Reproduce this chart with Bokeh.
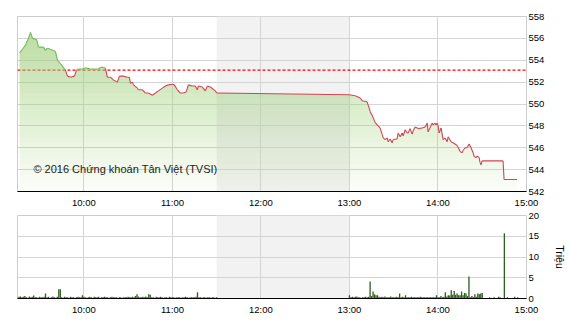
import numpy as np
from bokeh.plotting import figure
from bokeh.models import Range1d, FixedTicker, BoxAnnotation, Span, Label
from bokeh.layouts import column
from bokeh.embed import file_html
from bokeh.resources import INLINE

# ---- data (time in minutes after 09:00) ----
price_min = [16.4, 18.4, 20.4, 22.4, 23.8, 25.2, 27.9, 29.2, 32.6, 34.0,
             35.3, 37.3, 39.4, 40.7, 42.1, 44.1, 46.2, 47.5, 48.9, 50.9,
             53.6, 55.0, 56.3, 59.0, 61.0, 64.4, 67.8, 69.9, 71.2, 73.2,
             74.6, 75.9, 78.0, 80.0, 82.7, 84.1, 86.8, 89.5, 90.8, 91.5,
             92.9, 93.6, 96.3, 96.9, 99.7, 101.7, 103.7, 106.4, 108.5, 110.5,
             113.2, 115.2, 117.3, 120.0, 121.3, 123.4, 125.4, 127.4, 129.4, 130.8,
             133.5, 135.5, 136.9, 137.6, 140.3, 142.3, 143.7, 145.7, 149.1, 150.0,
             240.0, 243.9, 247.3, 248.6, 252.0, 252.7, 254.1, 256.1, 257.4, 259.5,
             260.8, 262.2, 262.9, 264.2, 265.6, 266.2, 267.6, 268.9, 269.6, 272.3,
             273.0, 274.4, 275.7, 276.4, 277.8, 279.1, 279.8, 281.1, 282.5, 283.2,
             284.5, 286.6, 289.3, 291.3, 292.7, 293.3, 296.0, 296.7, 298.1, 298.7,
             299.4, 300.1, 300.8, 302.1, 303.5, 304.8, 306.2, 306.9, 308.9, 310.3,
             313.0, 315.0, 316.4, 317.0, 318.4, 319.7, 321.1, 322.4, 323.8, 324.5,
             325.8, 326.5, 327.9, 328.5, 329.2, 329.9, 331.9, 344.1, 344.8, 353.6]
price_val = [554.7, 555.0, 555.4, 556.0, 556.55, 556.0, 555.9, 555.2, 555.2, 554.9,
             555.1, 555.0, 554.9, 554.8, 554.0, 553.7, 553.3, 553.1, 552.55, 552.45,
             552.55, 553.1, 553.2, 553.2, 553.3, 553.2, 553.2, 553.2, 553.35, 553.35,
             553.25, 552.45, 552.45, 552.2, 552.0, 552.55, 552.55, 552.45, 552.45, 551.9,
             552.0, 551.75, 551.45, 551.3, 551.3, 551.0, 551.0, 550.8, 551.0, 551.2,
             551.45, 551.65, 551.75, 551.8, 551.75, 551.3, 551.0, 551.0, 551.1, 551.75,
             551.65, 551.65, 551.3, 551.65, 551.55, 551.2, 551.65, 551.55, 551.2, 551.0,
             550.85, 550.75, 550.55, 550.3, 550.2, 549.9, 549.3, 548.75, 548.3, 548.0,
             547.8, 547.2, 546.9, 546.75, 546.9, 546.55, 546.8, 546.45, 546.75, 546.8,
             547.35, 547.0, 547.35, 547.1, 547.65, 547.35, 547.35, 547.75, 547.25, 547.55,
             547.9, 547.75, 547.8, 547.9, 548.25, 547.45, 548.25, 548.1, 548.25, 548.1,
             548.25, 548.0, 547.35, 547.8, 546.75, 546.9, 546.55, 547.0, 546.55, 546.45,
             546.2, 545.65, 545.55, 545.75, 546.0, 546.0, 546.35, 546.0, 545.55, 545.2,
             545.1, 545.25, 545.1, 544.65, 544.45, 544.8, 544.8, 544.8, 543.1, 543.1]
ref_price = 553.1

# volume (millions) per minute: morning 09:15-11:30, afternoon 13:00-14:54
vol_am_start = 15
vol_am = [0.3, 0.4, 0.5, 0.3, 0.4, 0.6, 0.3, 0.2, 0.5, 0.3,
          0.4, 0.7, 0.3, 0.3, 0.2, 0.4, 0.3, 0.3, 0.4, 1.2,
          0.3, 0.4, 0.2, 0.3, 0.5, 0.3, 0.2, 0.4, 2.2, 2.2,
          0.3, 0.2, 0.4, 0.3, 0.3, 0.2, 0.4, 0.3, 0.3, 0.2,
          0.3, 0.4, 0.3, 0.3, 0.8, 0.4, 0.3, 0.2, 0.3, 0.4,
          0.3, 0.2, 0.4, 0.3, 0.3, 0.4, 0.2, 0.3, 0.3, 0.4,
          0.3, 0.3, 0.2, 0.3, 0.4, 0.3, 0.3, 0.3, 0.2, 0.3,
          0.3, 0.2, 0.3, 0.3, 0.3, 0.4, 0.3, 0.3, 0.4, 0.3,
          0.6, 1.0, 0.5, 0.3, 0.3, 0.4, 0.3, 0.5, 0.3, 1.0,
          0.9, 0.3, 0.3, 0.2, 0.4, 0.3, 0.3, 0.4, 0.3, 0.2,
          0.3, 0.3, 0.2, 0.4, 0.3, 0.3, 0.3, 0.2, 0.3, 0.3,
          0.3, 0.2, 0.3, 0.3, 0.4, 0.3, 0.2, 0.3, 0.3, 0.3,
          0.3, 0.4, 1.5, 0.3, 0.3, 0.2, 0.3, 0.3, 0.2, 0.3,
          0.3, 0.2, 0.3, 0.3, 0.2, 0.3]
vol_pm_start = 240
vol_pm = [0.8, 0.3, 0.4, 0.3, 0.4, 0.5, 0.3, 0.3, 0.2, 0.3,
          0.3, 0.4, 0.3, 0.4, 4.1, 0.6, 1.7, 1.0, 0.8, 0.8,
          0.4, 0.3, 0.4, 0.3, 0.5, 0.3, 0.3, 0.3, 0.5, 0.3,
          0.3, 0.3, 0.4, 0.3, 1.2, 0.3, 0.4, 0.3, 0.8, 0.3,
          0.3, 0.3, 0.4, 0.3, 0.3, 0.3, 0.3, 0.3, 0.4, 0.3,
          0.3, 0.3, 0.3, 0.3, 0.3, 0.3, 0.3, 0.3, 0.3, 0.8,
          0.3, 0.3, 0.6, 0.3, 0.4, 1.5, 0.5, 0.8, 0.7, 2.0,
          0.9, 1.8, 0.9, 1.2, 0.8, 0.8, 1.7, 0.8, 1.3, 1.2,
          0.6, 5.3, 0.3, 0.6, 0.3, 1.0, 0.4, 1.2, 1.0, 1.2,
          1.3, 0.0, 0.0, 0.0, 0.0, 0.3, 0.0, 0.0, 0.3, 0.0,
          0.0, 0.4, 0.3, 0.0, 0.0, 15.7, 0.0, 0.3, 0.0, 0.0,
          0.0, 0.0, 0.4, 0.0, 0.3]

hour_ticks = [60, 120, 180, 240, 300, 360]
hour_labels = ["10:00", "11:00", "12:00", "13:00", "14:00", "15:00"]
price_ticks = [542, 544, 546, 548, 550, 552, 554, 556, 558]
vol_ticks = [0, 5, 10, 15, 20]
lunch_start, lunch_end = 150, 240
copyright_text = "© 2016 Chứng khoán Tân Việt (TVSI)"
vol_unit = "Triệu"

FONT = "Liberation Sans"
GRID = "#d4d4d4"


def base_fig(frame_h, top, bottom, yr, yticks):
    p = figure(frame_width=509, frame_height=frame_h,
               min_border_left=17, min_border_right=44,
               min_border_top=top, min_border_bottom=bottom,
               x_range=Range1d(15, 360), y_range=Range1d(*yr),
               y_axis_location="right",
               output_backend="svg", toolbar_location=None)
    p.outline_line_color = "#cccccc"
    p.background_fill_color = "white"
    p.border_fill_color = "white"
    p.xaxis.ticker = FixedTicker(ticks=hour_ticks)
    p.xaxis.major_label_overrides = {t: l for t, l in zip(hour_ticks, hour_labels)}
    p.xgrid.ticker = FixedTicker(ticks=hour_ticks)
    p.yaxis.ticker = FixedTicker(ticks=yticks)
    p.ygrid.ticker = FixedTicker(ticks=yticks)
    for ax in (p.xaxis, p.yaxis):
        ax.major_tick_line_color = None
        ax.minor_tick_line_color = None
        ax.major_tick_out = 0
        ax.major_tick_in = 0
        ax.minor_tick_out = 0
        ax.minor_tick_in = 0
        ax.major_label_text_font = FONT
        ax.major_label_text_font_size = "9.5px"
        ax.major_label_text_color = "black"
    p.xaxis.axis_line_color = "black"
    p.xaxis.major_label_standoff = 5
    p.yaxis.axis_line_color = None
    p.yaxis.major_label_standoff = 2
    for g in (p.xgrid, p.ygrid):
        g.grid_line_color = GRID
        g.grid_line_width = 1
    p.add_layout(BoxAnnotation(left=lunch_start, right=lunch_end,
                               fill_color="#f2f2f2", fill_alpha=1.0,
                               line_color=None, level="image"))
    return p


# ---- price panel ----
p1 = base_fig(175, 16, 18, (542, 558), price_ticks)
p1.add_layout(Span(location=ref_price, dimension="width", line_color="#ff0000",
                   line_width=1.3, line_dash="3 2", level="underlay"))

px = np.array(price_min)
pv = np.array(price_val)
levels = np.arange(542.0, 558.0, 0.5)
f = 0.05 + (levels - 542.0) / 16.0 * 0.72
prev = 0.0
for lv, fv in zip(levels, f):
    a = 1 - (1 - fv) / (1 - prev)
    prev = fv
    p1.varea(x=px, y1=np.full_like(pv, lv), y2=np.maximum(pv, lv),
             fill_color="#a8d888", fill_alpha=float(a))

above = (pv[:-1] >= ref_price) & (pv[1:] >= ref_price)
seg_colors = ["#72b95a" if a else "#cf4553" for a in above]
p1.segment(x0=px[:-1], y0=pv[:-1], x1=px[1:], y1=pv[1:],
           line_color=seg_colors, line_width=1.1)

p1.add_layout(Label(x=25.8, y=544.1, text=copyright_text,
                    text_font=FONT, text_font_size="11px",
                    text_baseline="middle", text_color="#222222"))

# ---- volume panel ----
p2 = base_fig(83, 5, 23, (0, 20), vol_ticks)
vx = [vol_am_start + i for i in range(len(vol_am))] + \
     [vol_pm_start + i for i in range(len(vol_pm))]
vv = vol_am + vol_pm
p2.vbar(x=vx, top=vv, width=0.9, fill_color="#30601f", line_color=None)
p2.yaxis.axis_label = vol_unit
p2.yaxis.axis_label_text_font = FONT
p2.yaxis.axis_label_text_font_size = "10.5px"
p2.yaxis.axis_label_text_font_style = "normal"
p2.yaxis.axis_label_text_color = "black"
p2.yaxis.axis_label_standoff = 12

layout = column(p1, p2, spacing=0)
open("out.html", "w").write(file_html(layout, INLINE))
